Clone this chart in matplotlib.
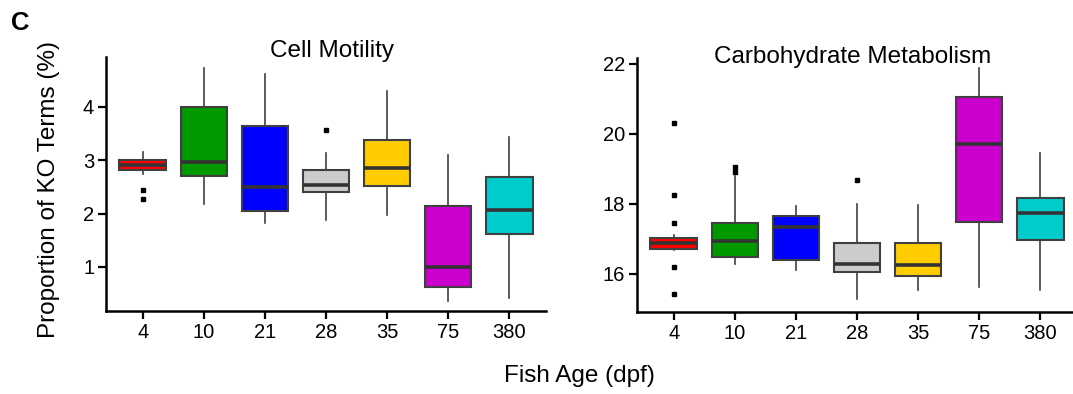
import matplotlib.pyplot as plt

plt.rcParams['font.family'] = ['Liberation Sans', 'DejaVu Sans']

ages = ['4', '10', '21', '28', '35', '75', '380']
box_colors = ['#FF0000', '#009900', '#0000FF', '#CCCCCC', '#FFCC00', '#CC00CC', '#00CCCC']

# Cell Motility (%)
mot_whislo = [2.74, 2.18, 1.82, 1.88, 1.97, 0.37, 0.42]
mot_q1 = [2.81, 2.70, 2.04, 2.41, 2.52, 0.62, 1.62]
mot_med = [2.91, 2.97, 2.49, 2.53, 2.86, 1.00, 2.07]
mot_q3 = [3.00, 3.99, 3.64, 2.81, 3.37, 2.15, 2.68]
mot_whishi = [3.15, 4.72, 4.62, 3.13, 4.30, 3.09, 3.43]
mot_fliers = [[2.44, 2.28], [], [], [3.56], [], [], []]

# Carbohydrate Metabolism (%)
carb_whislo = [16.67, 16.26, 16.11, 15.26, 15.52, 15.61, 15.53]
carb_q1 = [16.71, 16.48, 16.40, 16.05, 15.92, 17.48, 16.97]
carb_med = [16.88, 16.92, 17.33, 16.28, 16.23, 19.71, 17.72]
carb_q3 = [17.02, 17.43, 17.64, 16.88, 16.88, 21.04, 18.15]
carb_whishi = [17.09, 18.78, 17.92, 17.99, 17.97, 21.86, 19.44]
carb_fliers = [[20.29, 18.25, 17.45, 16.18, 15.42], [19.05, 18.91], [], [18.66], [], [], []]


def make_stats(lo, q1, med, q3, hi, fl):
    return [dict(whislo=a, q1=b, med=c, q3=d, whishi=e, fliers=f, label=lab)
            for a, b, c, d, e, f, lab in zip(lo, q1, med, q3, hi, fl, ages)]


def draw_panel(ax, stats, ylim, yticks):
    bp = ax.bxp(stats, positions=range(len(stats)), widths=0.76, patch_artist=True,
                showcaps=False,
                boxprops=dict(edgecolor='#404040', linewidth=1.5),
                medianprops=dict(color='#333333', linewidth=2.6),
                whiskerprops=dict(color='#404040', linewidth=1.2),
                flierprops=dict(marker='s', markersize=2.2, markerfacecolor='black',
                                markeredgecolor='black'))
    for patch, c in zip(bp['boxes'], box_colors):
        patch.set_facecolor(c)
    ax.set_xlim(-0.6, 6.6)
    ax.set_ylim(*ylim)
    ax.set_yticks(yticks)
    ax.set_xticks(range(len(ages)))
    ax.set_xticklabels(ages)
    for side in ['top', 'right']:
        ax.spines[side].set_visible(False)
    for side in ['left', 'bottom']:
        ax.spines[side].set_linewidth(1.8)
    ax.tick_params(labelsize=14.5, width=1.6, length=5.5, pad=3)


fig = plt.figure(figsize=(10.73, 3.94), dpi=100)
ax1 = fig.add_axes([106 / 1073, 1 - 311 / 394, 440 / 1073, 254 / 394])
ax2 = fig.add_axes([637 / 1073, 1 - 312 / 394, 440 / 1073, 254 / 394])

draw_panel(ax1, make_stats(mot_whislo, mot_q1, mot_med, mot_q3, mot_whishi, mot_fliers),
           (0.175, 4.93), [1, 2, 3, 4])
draw_panel(ax2, make_stats(carb_whislo, carb_q1, carb_med, carb_q3, carb_whishi, carb_fliers),
           (14.9, 22.16), [16, 18, 20, 22])

fig.text(331.7 / 1073, 1 - 57.5 / 394, 'Cell Motility', ha='center', va='baseline', fontsize=17.5)
fig.text(852.5 / 1073, 1 - 62.5 / 394, 'Carbohydrate Metabolism', ha='center', va='baseline', fontsize=17.5)
fig.text(11 / 1073, 1 - 29.5 / 394, 'C', ha='left', va='baseline', fontsize=18.5, fontweight='bold')
fig.text(49.5 / 1073, 1 - 190 / 394, 'Proportion of KO Terms (%)', rotation=90,
         ha='center', va='center', fontsize=17.5)
fig.text(579.7 / 1073, 1 - 382 / 394, 'Fish Age (dpf)', ha='center', va='baseline', fontsize=17.5)

fig.savefig('out.png', dpi=100)
